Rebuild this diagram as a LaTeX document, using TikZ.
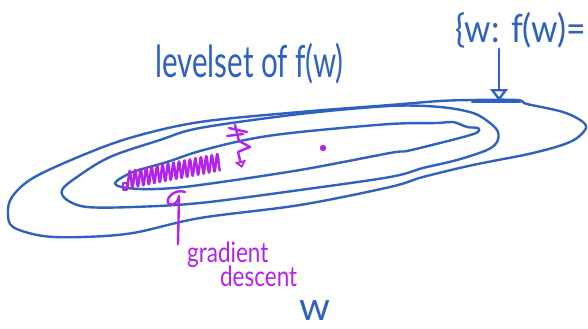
\documentclass[tikz,border=0pt]{standalone}
\usepackage{fontspec}
\setmainfont{Lato}
\usetikzlibrary{arrows.meta,calc}
\definecolor{Pen}{HTML}{2F62C0}
\definecolor{Marker}{HTML}{B423EB}

\begin{document}
\begin{tikzpicture}[x=0.05cm,y=-0.05cm,contour/.style={draw=Pen, line width=3.4pt, line join=round, line cap=round},scribble/.style={draw=Marker, line width=3.4pt, line cap=round, line join=round},penlabel/.style={text=Pen, inner sep=0pt},markerlabel/.style={text=Marker, inner sep=0pt},setarrow/.style={contour, -{Triangle[open, length=17pt, width=25pt]}}]
\clip (0,0) rectangle (588,329);
\fill[white] (0,0) rectangle (588,329);
\draw[contour] plot[smooth cycle, tension=0.55] coordinates {(8,213) (12,197) (33,178) (83,155) (133,137) (200,122) (300,112) (390,105) (440,101) (473,100) (517,100) (527,104) (563,112) (583,122) (585,130) (570,142) (533,153) (473,165) (423,177) (390,187) (300,205) (200,218) (133,233) (83,237) (43,236) (13,227)};
\draw[contour] plot[smooth cycle, tension=0.55] coordinates {(62,190) (77,177) (110,157) (160,140) (200,128) (300,114) (390,106) (440,107) (473,113) (490,123) (498,132) (497,142) (487,150) (457,160) (423,168) (390,177) (300,190) (200,203) (133,207) (87,207) (67,200)};
\draw[contour] plot[smooth cycle, tension=0.55] coordinates {(115,183) (133,172) (167,162) (200,151) (250,139) (300,132) (390,124) (437,123) (453,122) (467,127) (478,128) (478,132) (467,136) (440,143) (407,151) (390,153) (300,170) (200,185) (157,189) (127,188)};
\draw[contour] (472,102) -- (520,102);
\node[penlabel, anchor=base west, font=\fontsize{42}{42}\selectfont] (levelset) at (155,78) {\scalebox{1}[1.5]{levelset of f(w)}};
\node[penlabel, anchor=base west, font=\fontsize{48}{48}\selectfont] (setlbl) at (455,43) {\scalebox{1}[1.15]{\{w: f(w)=}};
\coordinate (levelhit) at (499,101);
\draw[setarrow] (setlbl.south -| levelhit) -- (levelhit);
\draw[scribble, line width=2pt] (123,183) rectangle (127,190);
\draw[scribble] plot[smooth, samples=240, domain=0:1] ({127+93*\x},{180-18*\x+8.5*cos(17*360*\x)});
\draw[scribble] (235,125) -- (239,141);
\draw[scribble] (229,128) -- (247,132);
\draw[scribble] (227,136) -- (243,134);
\draw[scribble, -{Triangle[open, length=10pt, width=16pt]}] (239,141) -- (250,147) -- (238,152) -- (242,168);
\fill[Marker] (323,148) circle (3.2);
\node[markerlabel, anchor=base west, font=\fontsize{32}{32}\selectfont] (gradlbl) at (187,262) {\scalebox{1}[1.25]{gradient}};
\node[markerlabel, anchor=base west, font=\fontsize{32}{32}\selectfont] (desclbl) at (220,286) {\scalebox{1}[1.25]{descent}};
\coordinate (gdhit) at (185,192);
\draw[scribble] (gdhit) .. controls (174,188) and (164,200) .. (169,204) .. controls (174,207) and (179,200) .. (179,196) -- ($(gradlbl.north west)+(-9,3)$);
\node[penlabel, anchor=base west, font=\fontsize{56}{56}\selectfont] (wlbl) at (299,320) {w};
\end{tikzpicture}
\end{document}
